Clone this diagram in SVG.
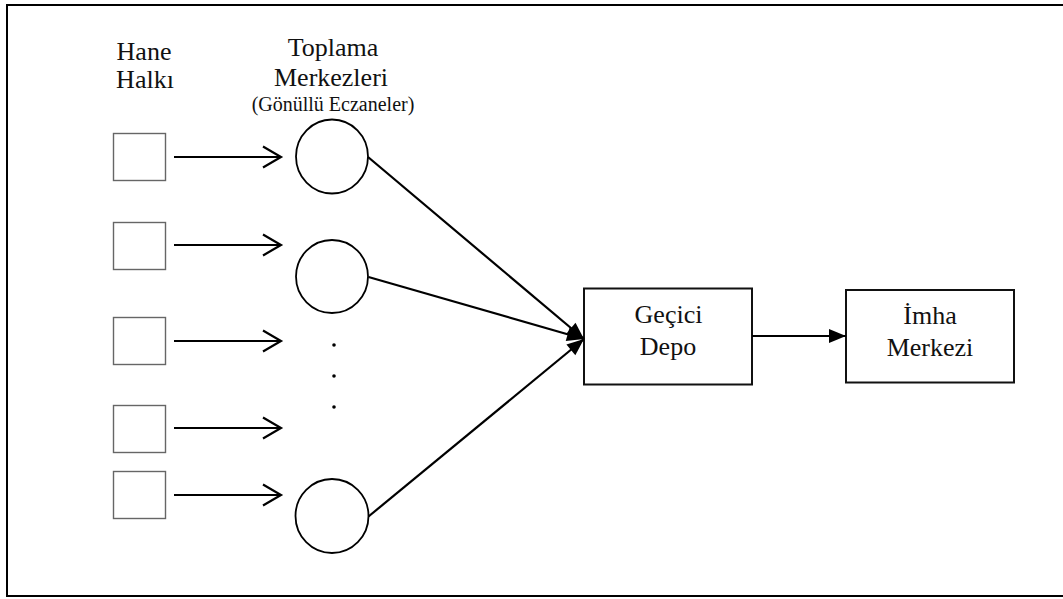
<svg xmlns="http://www.w3.org/2000/svg" width="1063" height="599" viewBox="0 0 1063 599">
  <style>
    .frame { fill: none; stroke: #000; stroke-width: 2; }
    .house { fill: #fff; stroke: #666; stroke-width: 1.4; }
    .center { fill: #fff; stroke: #000; stroke-width: 1.8; }
    .box { fill: #fff; stroke: #111; stroke-width: 2; }
    .edge { fill: none; stroke: #000; stroke-width: 2.2; }
    text { font-family: "Times New Roman", "Liberation Serif", serif; fill: #111; text-anchor: middle; }
    .big { font-size: 26px; }
    .small { font-size: 20px; }
    .dot { fill: #000; }
  </style>
  <defs>
    <marker id="open" markerUnits="userSpaceOnUse" viewBox="-2 -2 24 26" refX="18" refY="10.5" markerWidth="24" markerHeight="26" orient="auto" overflow="visible">
      <path d="M0,0 L18,10.5 L0,21" fill="none" stroke="#000" stroke-width="2.2"/>
    </marker>
    <marker id="solid" markerUnits="userSpaceOnUse" viewBox="0 0 17 14" refX="17" refY="7" markerWidth="17" markerHeight="14" orient="auto" overflow="visible">
      <path d="M0,0 L17,7 L0,14 Z" fill="#000"/>
    </marker>
  </defs>

  <rect class="frame" x="7" y="5" width="1062" height="591"/>

  <!-- column headings -->
  <g id="heading-households">
    <text class="big" x="144" y="60">Hane</text>
    <text class="big" x="145" y="88">Halkı</text>
  </g>
  <g id="heading-centers">
    <text class="big" x="333" y="56">Toplama</text>
    <text class="big" x="331" y="86">Merkezleri</text>
    <text class="small" x="333" y="111">(Gönüllü Eczaneler)</text>
  </g>

  <!-- households -->
  <g id="household-1"><rect class="house" x="113.5" y="133.5" width="52" height="47"/></g>
  <g id="household-2"><rect class="house" x="113.5" y="222.5" width="52" height="47"/></g>
  <g id="household-3"><rect class="house" x="113.5" y="317.5" width="52" height="47"/></g>
  <g id="household-4"><rect class="house" x="113.5" y="405.5" width="52" height="47"/></g>
  <g id="household-5"><rect class="house" x="113.5" y="471.5" width="52" height="47"/></g>

  <!-- collection centers -->
  <g id="center-1"><ellipse class="center" cx="332" cy="156.5" rx="36" ry="37"/></g>
  <g id="center-2"><ellipse class="center" cx="332" cy="276.5" rx="36" ry="36.5"/></g>
  <g id="center-n"><ellipse class="center" cx="332" cy="516" rx="36.5" ry="37"/></g>

  <!-- ellipsis between centers -->
  <g id="ellipsis">
    <circle class="dot" cx="334" cy="345" r="1.8"/>
    <circle class="dot" cx="334" cy="376" r="1.8"/>
    <circle class="dot" cx="334" cy="407" r="1.8"/>
  </g>

  <!-- temporary depot -->
  <g id="depot">
    <rect class="box" x="584" y="288.5" width="168" height="96"/>
    <text class="big" x="668.5" y="323">Geçici</text>
    <text class="big" x="668" y="355">Depo</text>
  </g>

  <!-- disposal center -->
  <g id="disposal">
    <rect class="box" x="846" y="290" width="168" height="92.5"/>
    <text class="big" x="930" y="324">İmha</text>
    <text class="big" x="930" y="356">Merkezi</text>
  </g>

  <!-- connectors -->
  <g id="connectors">
    <line class="edge" x1="174" y1="157" x2="281" y2="157" marker-end="url(#open)"/>
    <line class="edge" x1="174" y1="245" x2="281" y2="245" marker-end="url(#open)"/>
    <line class="edge" x1="174" y1="341" x2="281" y2="341" marker-end="url(#open)"/>
    <line class="edge" x1="174" y1="428" x2="281" y2="428" marker-end="url(#open)"/>
    <line class="edge" x1="174" y1="495" x2="281" y2="495" marker-end="url(#open)"/>

    <line class="edge" x1="368" y1="157" x2="584" y2="339" marker-end="url(#solid)"/>
    <line class="edge" x1="368.5" y1="277" x2="584" y2="339" marker-end="url(#solid)"/>
    <line class="edge" x1="368.5" y1="516.5" x2="584" y2="339" marker-end="url(#solid)"/>

    <line class="edge" x1="752" y1="336" x2="846" y2="336" marker-end="url(#solid)"/>
  </g>
</svg>
